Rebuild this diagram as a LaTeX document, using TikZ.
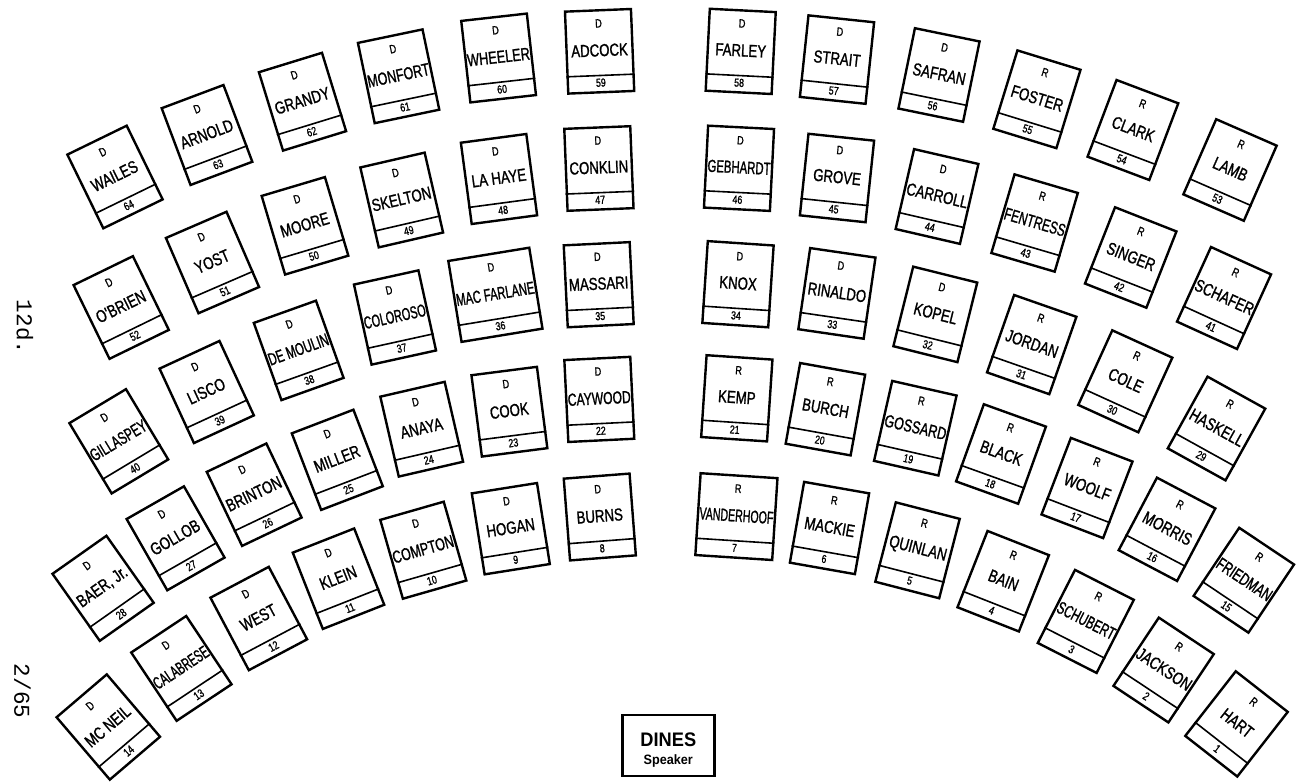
\documentclass[tikz,border=0pt]{standalone}
\usepackage{fontspec}
\usetikzlibrary{calc}
\newfontfamily\deskfont{Liberation Sans}[FakeStretch=0.76,FakeBold=1.2]
\newfontfamily\dinesfont{Liberation Sans}[FakeStretch=0.93]
\newfontfamily\marginfont{Liberation Mono}
\newdimen\fitdim
\newcommand\fitw[2]{\fitdim=#1\relax\setbox0=\hbox{#2}\ifdim\wd0>\fitdim\resizebox{\fitdim}{\height}{\box0}\else\box0\fi}
\tikzset{
  deskbox/.style={draw, line width=1.2pt, rectangle, minimum height=41pt, inner sep=0pt, transform shape},
  stripline/.style={line width=0.8pt},
  partytext/.style={font=\deskfont\fontsize{6}{6}\selectfont, inner sep=0pt, transform shape},
  nametext/.style={font=\deskfont\fontsize{8.7}{9}\selectfont, inner sep=0pt, transform shape},
  numtext/.style={font=\deskfont\fontsize{5.8}{6}\selectfont, inner sep=0pt, transform shape},
  margintext/.style={font=\marginfont\fontsize{11.3}{12}\selectfont, inner sep=0pt, rotate=-90},
}
% #1 number, #2 party, #3 name, #4 x(px), #5 y(px), #6 angle, #7 width (pt)
\newcommand\desk[7]{%
  \begin{scope}[shift={(#4,-#5)},rotate=#6]
    \node[deskbox,minimum width=#7pt] (d#1) at (0,0) {};
    \draw[stripline] ($(d#1.south west)!9pt!(d#1.north west)$) -- ($(d#1.south east)!9pt!(d#1.north east)$);
    \node[partytext] (p#1) at (0pt,14pt) {#2};
    \node[nametext] (n#1) at (0pt,0.5pt) {\fitw{\dimexpr#7pt-1.5pt\relax}{#3}};
    \node[numtext] (k#1) at (0pt,-15.7pt) {#1};
  \end{scope}}
\begin{document}
\begin{tikzpicture}[x=0.5pt,y=0.5pt]
\useasboundingbox (0,0) rectangle (1299,-781);
% outer row
\desk{64}{D}{WAILES}{115}{177}{26}{33}
\desk{63}{D}{ARNOLD}{207}{135}{20.6}{33}
\desk{62}{D}{GRANDY}{302.5}{101.7}{17.1}{33}
\desk{61}{D}{MONFORT}{398.6}{76.3}{11.8}{33}
\desk{60}{D}{WHEELER}{498.6}{58}{6.4}{33}
\desk{59}{D}{ADCOCK}{599.6}{51.3}{2.3}{33}
\desk{58}{D}{FARLEY}{740.7}{51.4}{-2.9}{33}
\desk{57}{D}{STRAIT}{837}{59.6}{-6}{33}
\desk{56}{D}{SAFRAN}{939}{75}{-11.6}{33}
\desk{55}{R}{FOSTER}{1036.9}{99.3}{-17.1}{33}
\desk{54}{R}{CLARK}{1132.9}{130}{-20.7}{33}
\desk{53}{R}{LAMB}{1230}{170}{-23.6}{33}
% second row
\desk{52}{D}{O'BRIEN}{121.2}{307.5}{26}{33}
\desk{51}{D}{YOST}{212.5}{262.5}{23.4}{33}
\desk{50}{D}{MOORE}{305}{225.8}{16.6}{33}
\desk{49}{D}{SKELTON}{401.7}{200}{13}{33}
\desk{48}{D}{LA HAYE}{499}{179}{7.6}{33}
\desk{47}{D}{CONKLIN}{598.9}{168.5}{2.3}{33}
\desk{46}{D}{GEBHARDT}{739}{168.3}{-2.9}{33}
\desk{45}{D}{GROVE}{837}{178}{-6}{33}
\desk{44}{D}{CARROLL}{937}{196.5}{-13}{33}
\desk{43}{R}{FENTRESS}{1034.6}{223}{-16.4}{33}
\desk{42}{R}{SINGER}{1130.7}{257.5}{-21.5}{33}
\desk{41}{R}{SCHAFER}{1224}{298}{-24.5}{33}
% third row
\desk{40}{D}{GILLASPEY}{118.8}{441.3}{31}{33}
\desk{39}{D}{LISCO}{206.7}{392}{24.8}{33}
\desk{38}{D}{DE MOULIN}{298.7}{350.4}{19.7}{33}
\desk{37}{D}{COLOROSO}{395}{317.5}{12.4}{33}
\desk{36}{D}{MAC FARLANE}{495.4}{294.8}{9.3}{41}
\desk{35}{D}{MASSARI}{598.7}{284.7}{2.8}{33}
\desk{34}{D}{KNOX}{738}{284.2}{-3.8}{33}
\desk{33}{D}{RINALDO}{836.9}{293.4}{-8.3}{33}
\desk{32}{D}{KOPEL}{935.3}{314.4}{-14}{33}
\desk{31}{R}{JORDAN}{1031.7}{344.6}{-19.3}{33}
\desk{30}{R}{COLE}{1125.3}{381.3}{-24.5}{33}
\desk{29}{R}{HASKELL}{1216.5}{428.5}{-29}{33}
% fourth row
\desk{28}{D}{BAER, Jr.}{103.1}{588.3}{35.2}{33}
\desk{27}{D}{GOLLOB}{175.6}{538.3}{29.7}{33}
\desk{26}{D}{BRINTON}{254.2}{494.7}{25.5}{33}
\desk{25}{D}{MILLER}{337.3}{459.8}{21}{33}
\desk{24}{D}{ANAYA}{421.7}{429.2}{13}{33}
\desk{23}{D}{COOK}{509.4}{411.7}{7.3}{33}
\desk{22}{D}{CAYWOOD}{599.3}{399.4}{2.8}{33}
\desk{21}{R}{KEMP}{736.8}{398.3}{-3.8}{33}
\desk{20}{R}{BURCH}{825.4}{409.2}{-10.2}{33}
\desk{19}{R}{GOSSARD}{915.3}{428.2}{-12.8}{33}
\desk{18}{R}{BLACK}{1001}{454}{-19.8}{33}
\desk{17}{R}{WOOLF}{1087}{488}{-21}{33}
\desk{16}{R}{MORRIS}{1167}{529.3}{-27.8}{33}
\desk{15}{R}{FRIEDMAN}{1243.8}{580.2}{-33.8}{33}
% fifth row
\desk{14}{D}{MC NEIL}{108.3}{727}{40.5}{33}
\desk{13}{D}{CALABRESE}{181.4}{668.4}{33.6}{33}
\desk{12}{D}{WEST}{258.8}{618.5}{27.9}{33}
\desk{11}{D}{KLEIN}{338.5}{578.7}{21.5}{33}
\desk{10}{D}{COMPTON}{423.3}{550.2}{16}{33}
\desk{9}{D}{HOGAN}{510.8}{528.7}{9}{33}
\desk{8}{D}{BURNS}{599.8}{517}{4.4}{33}
\desk{7}{R}{VANDERHOOF}{736.4}{516.6}{-3.7}{38.5}
\desk{6}{R}{MACKIE}{829.5}{528}{-10}{33}
\desk{5}{R}{QUINLAN}{917.5}{550.3}{-14.5}{33}
\desk{4}{R}{BAIN}{1003.2}{581.2}{-21.5}{33}
\desk{3}{R}{SCHUBERT}{1085.8}{621.4}{-27}{33}
\desk{2}{R}{JACKSON}{1163.6}{670}{-33.6}{33}
\desk{1}{R}{HART}{1236.5}{723.9}{-38}{33}
% speaker
\node[draw, line width=1.3pt, minimum width=46pt, minimum height=30.5pt, inner sep=0pt] (dines) at (668.5,-745.5) {};
\node[font=\dinesfont\bfseries\fontsize{9.8}{10}\selectfont, inner sep=0pt] (dinesname) at (668.3,-739.3) {DINES};
\node[font=\dinesfont\bfseries\fontsize{6.8}{7}\selectfont, inner sep=0pt] (dinesrole) at (668.3,-761) {Speaker};
% margin notes
\node[margintext] (m1) at (25,-327) {12d.};
\node[margintext] (m2) at (22.5,-691) {2/65};
\end{tikzpicture}
\end{document}
